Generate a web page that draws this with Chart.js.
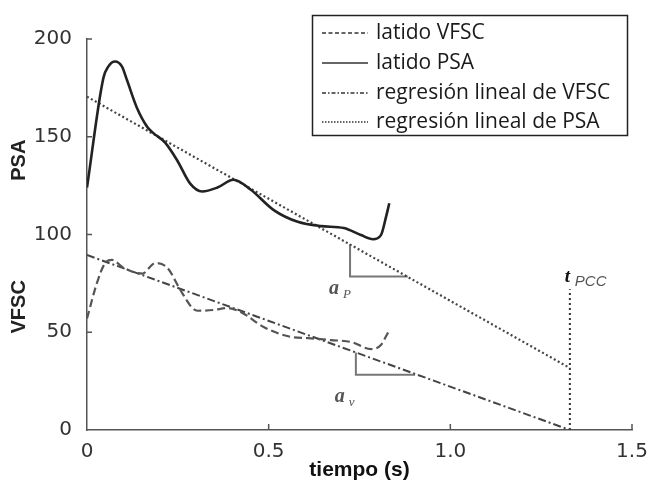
<!DOCTYPE html>
<html>
<head>
<meta charset="utf-8">
<script src="https://cdn.jsdelivr.net/npm/chart.js@4.4.1/dist/chart.umd.min.js"></script>
<style>
    html, body { margin: 0; padding: 0; background: #fff; }
</style>
</head>
<body>
<canvas id="grafico" width="651" height="484"></canvas>
<script>
// latido PSA (mmHg) vs tiempo (s)
const psaTiempo = [0, 0.045, 0.059, 0.077, 0.096, 0.11, 0.137, 0.166, 0.182, 0.215, 0.248, 0.284, 0.317, 0.359, 0.403, 0.45, 0.514, 0.58, 0.644, 0.707, 0.754, 0.787, 0.809, 0.823, 0.832];
const psaValores = [124, 180, 186, 188.5, 186, 179, 165, 155, 152, 147, 138, 126, 122, 124, 128, 123, 112.5, 106.5, 104.3, 103.3, 99.7, 97.6, 99.7, 109, 116];

// latido VFSC
const vfscTiempo = [0, 0.027, 0.05, 0.069, 0.1, 0.152, 0.188, 0.221, 0.257, 0.29, 0.304, 0.348, 0.387, 0.423, 0.486, 0.561, 0.608, 0.671, 0.727, 0.782, 0.809, 0.829];
const vfscValores = [57, 75, 85.4, 87, 83, 80, 85.4, 83, 71.6, 62.4, 61, 61.4, 62.4, 60.4, 52.7, 47.6, 47, 46, 45, 41.4, 43.5, 50];

// regresiones lineales (extremos)
const regTiempo = [0, 1.329];
const regPsaValores = [170.5, 31.7];
const regVfscValores = [89.5, 0];

// t_PCC
const tPcc = [1.329, 1.329];
const tPccValores = [0, 72];

// triangulos de pendiente
const aPTiempo = [0.724, 0.724, 0.883];
const aPValores = [95, 78.5, 78.5];
const aVTiempo = [0.740, 0.740, 0.903];
const aVValores = [39.7, 28.3, 28.3];

const xTicks = [0, 0.5, 1, 1.5];
const yTicks = [0, 50, 100, 150, 200];

function pares(xs, ys) {
    return xs.map((x, i) => ({x: x, y: ys[i]}));
}

// legend box + y titles + labels
const extras = {
    id: 'extras',
    afterDraw(chart) {
        const ctx = chart.ctx;
        const xs = chart.scales.x, ys = chart.scales.y;
        const area = chart.chartArea;
        ctx.save();

        // inward tick marks
        ctx.strokeStyle = '#555';
        ctx.lineWidth = 1.5;
        ctx.beginPath();
        xTicks.forEach((t) => {
            if (t === 0) return;
            let px = xs.getPixelForValue(t);
            ctx.moveTo(px, area.bottom);
            ctx.lineTo(px, area.bottom - 6);
        });
        yTicks.forEach((t) => {
            if (t === 0) return;
            let py = ys.getPixelForValue(t);
            ctx.moveTo(area.left, py);
            ctx.lineTo(area.left + 5, py);
        });
        ctx.stroke();

        // y titles
        ctx.fillStyle = '#222';
        ctx.font = 'bold 20px "Liberation Sans"';
        ctx.textAlign = 'center';
        ctx.textBaseline = 'middle';
        [['PSA', 138], ['VFSC', 63]].forEach((t) => {
            ctx.save();
            ctx.translate(19, ys.getPixelForValue(t[1]));
            ctx.rotate(-Math.PI / 2);
            ctx.fillText(t[0], 0, 0);
            ctx.restore();
        });

        // t_PCC label
        ctx.textAlign = 'left';
        ctx.textBaseline = 'alphabetic';
        let tx = xs.getPixelForValue(tPcc[0]);
        let ty = ys.getPixelForValue(tPccValores[1]);
        ctx.fillStyle = '#111';
        ctx.font = 'italic bold 19px "Liberation Serif"';
        ctx.fillText('t', tx - 5, ty - 7);
        ctx.fillStyle = '#555';
        ctx.font = 'italic 15px "Liberation Sans"';
        ctx.fillText('PCC', tx + 5, ty - 3);

        // slope labels
        [['a', 'P', aPTiempo[0] - 0.058, aPValores[1] - 9], ['a', 'v', aVTiempo[0] - 0.058, aVValores[1] - 14]].forEach((l) => {
            let lx = xs.getPixelForValue(l[2]);
            let ly = ys.getPixelForValue(l[3]);
            ctx.fillStyle = '#555';
            ctx.font = 'italic bold 20px "Liberation Serif"';
            ctx.fillText(l[0], lx, ly);
            ctx.font = 'italic 13px "Liberation Serif"';
            ctx.fillText(l[1], lx + 14, ly + 4);
        });

        // legend
        ctx.strokeStyle = '#222';
        ctx.lineWidth = 1.5;
        ctx.strokeRect(312.5, 15.5, 315, 120);
        let filas = [33, 63, 93, 122];
        ctx.font = '21px "Open Sans"';
        ctx.textBaseline = 'middle';
        chart.data.datasets.slice(0, 4).forEach((ds, i) => {
            ctx.save();
            ctx.strokeStyle = '#333';
            ctx.lineWidth = 1.3;
            ctx.setLineDash(ds.legendDash || []);
            ctx.beginPath();
            ctx.moveTo(322, filas[i]);
            ctx.lineTo(368, filas[i]);
            ctx.stroke();
            ctx.restore();
            ctx.fillStyle = '#1a1a1a';
            ctx.fillText(ds.label, 376, filas[i]);
        });
        ctx.restore();
    }
};

const ctx = document.getElementById('grafico').getContext('2d');
new Chart(ctx, {
    type: 'scatter',
    data: {
        datasets: [
            {
                label: 'latido VFSC',
                data: pares(vfscTiempo, vfscValores),
                borderColor: '#555',
                borderWidth: 2.2,
                borderDash: [8, 4],
                legendDash: [4, 2.5],
                cubicInterpolationMode: 'monotone'
            },
            {
                label: 'latido PSA',
                data: pares(psaTiempo, psaValores),
                borderColor: '#222',
                borderWidth: 2.6,
                legendDash: [],
                cubicInterpolationMode: 'monotone'
            },
            {
                label: 'regresión lineal de VFSC',
                data: pares(regTiempo, regVfscValores),
                borderColor: '#444',
                borderWidth: 2,
                borderDash: [8, 3, 2, 3],
                legendDash: [4, 2, 1.5, 2]
            },
            {
                label: 'regresión lineal de PSA',
                data: pares(regTiempo, regPsaValores),
                borderColor: '#444',
                borderWidth: 2.2,
                borderDash: [2, 2.5],
                legendDash: [1.5, 1.5]
            },
            {
                label: 'tPCC',
                data: pares(tPcc, tPccValores),
                borderColor: '#333',
                borderWidth: 2,
                borderDash: [2, 3]
            },
            {
                label: 'aP',
                data: pares(aPTiempo, aPValores),
                borderColor: '#777',
                borderWidth: 2
            },
            {
                label: 'av',
                data: pares(aVTiempo, aVValores),
                borderColor: '#777',
                borderWidth: 2
            }
        ]
    },
    options: {
        responsive: false,
        animation: false,
        showLine: true,
        layout: {padding: {top: 39, right: 19, left: 0, bottom: 0}},
        elements: {point: {radius: 0}, line: {fill: false}},
        plugins: {legend: {display: false}, tooltip: {enabled: false}},
        scales: {
            x: {
                type: 'linear',
                min: 0,
                max: 1.5,
                afterFit: (s) => { s.height = 54; },
                afterBuildTicks: (s) => { s.ticks = xTicks.map((v) => ({value: v})); },
                ticks: {
                    padding: 2,
                    maxRotation: 0,
                    color: '#333',
                    font: {family: 'DejaVu Sans', size: 20}
                },
                grid: {display: false},
                border: {color: '#555', width: 1.5},
                title: {
                    display: true,
                    text: 'tiempo (s)',
                    color: '#111',
                    font: {family: 'Liberation Sans', size: 21, weight: 'bold'},
                    padding: {top: 0, bottom: 1}
                }
            },
            y: {
                min: 0,
                max: 200,
                afterFit: (s) => { s.width = 87; },
                afterBuildTicks: (s) => { s.ticks = yTicks.map((v) => ({value: v})); },
                ticks: {
                    padding: 7,
                    color: '#333',
                    font: {family: 'DejaVu Sans', size: 20}
                },
                grid: {display: false},
                border: {color: '#555', width: 1.5}
            }
        }
    },
    plugins: [extras]
});
</script>
</body>
</html>
